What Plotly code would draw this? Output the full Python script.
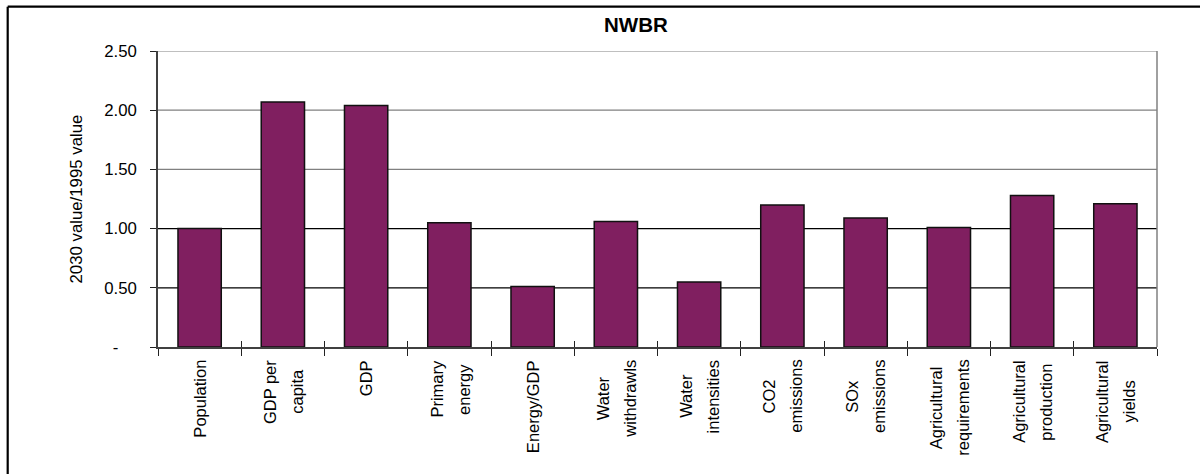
import plotly.graph_objects as go

# Ratio of 2030 value to 1995 value, NWBR region
categories = [
    "Population", "GDP per<br>capita", "GDP", "Primary<br>energy", "Energy/GDP",
    "Water<br>withdrawls", "Water<br>intensities", "CO2<br>emissions",
    "SOx<br>emissions", "Agricultural<br>requirements", "Agricultural<br>production",
    "Agricultural<br>yields",
]
ratios = [1.00, 2.07, 2.04, 1.05, 0.51, 1.06, 0.55, 1.20, 1.09, 1.01, 1.28, 1.21]

y_tickvals = [0, 0.5, 1.0, 1.5, 2.0, 2.5]
y_ticktext = ["-\u00a0\u00a0\u00a0\u00a0", "0.50", "1.00", "1.50", "2.00", "2.50"]
grid_colors = ["#000000", "#000000", "#000000", "#808080", "#808080", "#808080"]

W, H = 1200, 474
ML, MR, MT, MB = 158, 43, 51, 127
PW, PH = W - ML - MR, H - MT - MB

FONT = "Liberation Sans, Arial, sans-serif"
LABEL_SIZE = 16.5
LINE_GAP = 27  # distance between the two lines of a category label
BAR_COLOR = "#801F60"
HIDDEN = "<span style='color:rgba(0,0,0,0)'>{}</span>"


def px_x(x):
    return (x - ML) / PW


def px_y(y):
    return (H - MB - y) / PH


fig = go.Figure()
fig.add_trace(go.Bar(
    x=categories, y=ratios,
    marker=dict(color=BAR_COLOR, line=dict(color="#111111", width=1.5)),
    width=0.52, hoverinfo="x+y",
))
# invisible companion trace carrying the inner half of the category ticks
fig.add_trace(go.Bar(
    x=categories, y=ratios, xaxis="x2", opacity=0, hoverinfo="skip",
    showlegend=False,
))

shapes = []
for v, c in zip(y_tickvals, grid_colors):
    if v == 0:
        continue
    shapes.append(dict(type="line", xref="paper", yref="y", x0=0, x1=1, y0=v, y1=v,
                       line=dict(color=c, width=1.2), layer="below"))
# right edge of plot area
shapes.append(dict(type="line", xref="paper", yref="paper", x0=1, x1=1, y0=0, y1=1,
                   line=dict(color="#808080", width=1.5)))
# chart frame (top and left edges)
shapes.append(dict(type="line", xref="paper", yref="paper",
                   x0=px_x(7.7), x1=px_x(1210), y0=px_y(6.7), y1=px_y(6.7),
                   line=dict(color="#000000", width=2.2)))
shapes.append(dict(type="line", xref="paper", yref="paper",
                   x0=px_x(7.7), x1=px_x(7.7), y0=px_y(6.7), y1=px_y(480),
                   line=dict(color="#000000", width=2.2)))

annotations = [
    dict(text="<b>NWBR</b>", xref="paper", yref="paper", x=px_x(635.5), y=px_y(25),
         xanchor="center", yanchor="middle", showarrow=False,
         font=dict(family=FONT, size=20.5, color="#000")),
    dict(text="2030 value/1995 value", xref="paper", yref="paper",
         x=px_x(75.5), y=px_y(199), textangle=-90, xanchor="center", yanchor="middle",
         showarrow=False, font=dict(family=FONT, size=16.8, color="#000")),
]


def label(cat, text, xshift):
    return dict(
        text=text, x=cat, y=0, xref="x", yref="y", textangle=-90,
        xanchor="center", yanchor="top", align="center", yshift=-11, xshift=xshift,
        showarrow=False, font=dict(family=FONT, size=LABEL_SIZE, color="#000"),
    )


# Two-line labels are drawn as two copies of the whole block, each showing one
# line, so the lines can sit further apart than the default line spacing.
extra = (LINE_GAP - 1.3 * LABEL_SIZE) / 2
for cat in categories:
    lines = cat.split("<br>")
    if len(lines) == 1:
        annotations.append(label(cat, cat, 0))
    else:
        first, second = lines
        annotations.append(label(cat, first + "<br>" + HIDDEN.format(second), -extra))
        annotations.append(label(cat, HIDDEN.format(first) + "<br>" + second, extra))

fig.update_layout(
    width=W, height=H,
    margin=dict(l=ML, r=MR, t=MT, b=MB, pad=0),
    paper_bgcolor="white", plot_bgcolor="white",
    showlegend=False, bargap=0.48,
    font=dict(family=FONT, size=16.5, color="#000"),
    xaxis=dict(
        type="category", showgrid=False, showline=True, linecolor="#404040", linewidth=1.5,
        ticks="outside", ticklen=7, tickwidth=1.2, tickcolor="#222", tickson="boundaries",
        showticklabels=False, zeroline=False,
    ),
    xaxis2=dict(
        type="category", overlaying="x", matches="x", anchor="y", side="bottom",
        showgrid=False, showline=False, ticks="inside", ticklen=6, tickwidth=1.2,
        tickcolor="#222", tickson="boundaries", showticklabels=False, zeroline=False,
    ),
    yaxis=dict(
        range=[0, 2.5], tickvals=y_tickvals, ticktext=y_ticktext,
        showgrid=False, zeroline=False, showline=True, linecolor="#404040", linewidth=1.5,
        ticks="outside", ticklen=6, tickwidth=1.2, tickcolor="#222",
        tickfont=dict(family=FONT, size=16.8, color="#000"), ticklabelstandoff=10,
    ),
    shapes=shapes, annotations=annotations,
)

fig.write_html("out.html")
